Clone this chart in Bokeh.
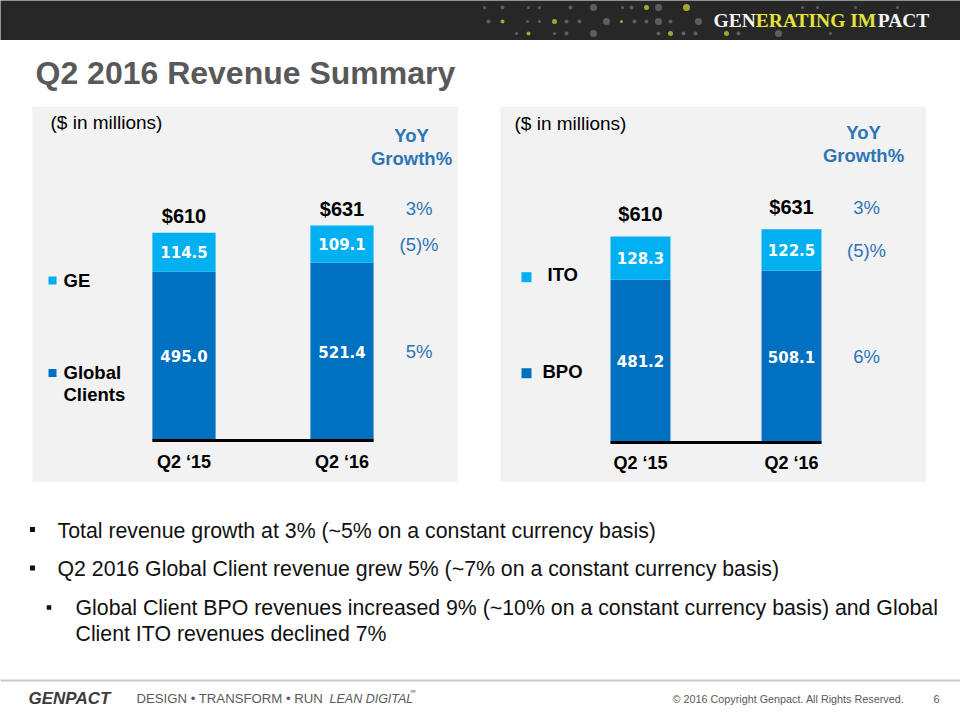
from bokeh.plotting import figure
from bokeh.models import ColumnDataSource, Range1d, Spacer
from bokeh.layouts import column, row
from bokeh.core.properties import value
from bokeh.embed import file_html
from bokeh.resources import INLINE

# ---------------- data ----------------
quarters = ["Q2 \u201815", "Q2 \u201816"]

left_names = ["Global Clients", "GE"]
global_clients = [495.0, 521.4]
ge = [114.5, 109.1]
left_totals = [610, 631]
left_growth = ["3%", "(5)%", "5%"]

right_names = ["BPO", "ITO"]
bpo = [481.2, 508.1]
ito = [128.3, 122.5]
right_totals = [610, 631]
right_growth = ["3%", "(5)%", "6%"]

title_text = "Q2 2016 Revenue Summary"
unit_text = "($ in millions)"
yoy_text = ["YoY", "Growth%"]

bullets_lvl1 = [
    "Total revenue growth at 3% (~5% on a constant currency basis)",
    "Q2 2016 Global Client revenue grew 5% (~7% on a constant currency basis)",
]
bullet_lvl2 = [
    "Global Client BPO revenues increased 9% (~10% on a constant currency basis) and Global",
    "Client ITO revenues declined 7%",
]

# header decoration dots (x, y, diameter, colour)
dot_x = [484, 502, 528, 539, 570, 593, 622, 631, 646, 658, 686, 802, 817, 855, 897,
         488, 502, 527, 539, 554, 566, 579, 606, 621, 634, 646, 658, 670, 698,
         516, 528, 554, 566, 593, 658, 670, 683, 695, 726, 738, 778, 830]
dot_y = [7] * 15 + [21] * 14 + [33] * 13
dot_s = [3, 4, 3, 3, 4, 7, 3, 4, 5, 7, 7, 3, 3, 3, 3,
         4, 4, 3, 3, 5, 4, 4, 7, 3, 4, 4, 7, 4, 7,
         3, 4, 3, 4, 7, 4, 5, 4, 4, 5, 4, 7, 3]
G, Y = "#5e5e5e", "#a6a62e"
dot_c = [G, G, G, G, G, G, G, G, Y, G, Y, G, G, G, G,
         G, Y, G, G, Y, G, G, G, Y, G, G, G, G, G,
         G, Y, G, G, G, G, Y, G, G, Y, G, G, G]

# ---------------- styles ----------------
DARK = "#0070c0"
LIGHT = "#00b0f0"
PANEL = "#f2f2f2"
GROWTH = "#2e75b6"
SANS = value("Liberation Sans")


def base_fig(w, h, xr, yr, bg="white"):
    p = figure(width=w, height=h, x_range=Range1d(*xr), y_range=Range1d(*yr),
               output_backend="svg", toolbar_location=None,
               x_axis_type=None, y_axis_type=None, min_border=0,
               background_fill_color=bg, border_fill_color=bg,
               outline_line_color=None)
    p.grid.visible = False
    return p


def chart(low, high, totals, growth, names, cfg):
    W, H = 426, 376
    x0, x1, y0, y1 = cfg["x0"], cfg["x1"], cfg["y0"], cfg["y1"]
    p = base_fig(W, H, (x0, x1), (y0, y1), PANEL)

    def dx(px):
        return x0 + px / W * (x1 - x0)

    def dy(py):
        return y1 - py / H * (y1 - y0)

    xs = list(range(len(quarters)))
    top = [a + b for a, b in zip(low, high)]
    src = ColumnDataSource(dict(
        x=xs, low=low, high=high, q=quarters, top=top, zero=[0] * len(xs),
        mid_low=[a / 2 for a in low],
        mid_high=[a + b / 2 for a, b in zip(low, high)],
        low_txt=[f"{v:.1f}" for v in low],
        high_txt=[f"{v:.1f}" for v in high],
        tot_txt=[f"${t}" for t in totals],
    ))
    w = cfg["w"]
    p.vbar_stack(["low", "high"], x="x", width=w, source=src,
                 fill_color=[DARK, LIGHT], line_color=None)
    p.segment(x0=[xs[0] - w / 2], y0=[0], x1=[xs[-1] + w / 2], y1=[0],
              line_color="black", line_width=3)

    seg_style = dict(text_color="white", text_font=value("DejaVu Sans"),
                     text_font_style="bold", text_font_size="15px",
                     text_align="center", text_baseline="middle")
    p.text(x="x", y="mid_low", text="low_txt", source=src, **seg_style)
    p.text(x="x", y="mid_high", text="high_txt", source=src, **seg_style)

    p.text(x="x", y="top", text="tot_txt", source=src, y_offset=cfg["tot_off"],
           text_color="black", text_font=SANS, text_font_style="bold",
           text_font_size="20px", text_align="center", text_baseline="middle")
    p.text(x="x", y="zero", text="q", source=src, y_offset=cfg["lab_off"],
           text_color="black", text_font=SANS, text_font_style="bold",
           text_font_size="18px", text_align="center", text_baseline="middle")

    # growth column (next to last bar)
    gstyle = dict(text_color=GROWTH, text_font=SANS, text_font_size="18.5px",
                  text_align="center", text_baseline="middle")
    last = xs[-1]
    p.text(x=[last], y=[top[-1]], text=[growth[0]], x_offset=cfg["g_off"],
           y_offset=cfg["tot_off"], **gstyle)
    p.text(x=[last, last], y=[src.data["mid_high"][-1], src.data["mid_low"][-1]],
           text=[growth[1], growth[2]], x_offset=cfg["g_off"], **gstyle)

    # YoY header
    p.text(x=[dx(cfg["yoy_x"])] * 2, y=[dy(cfg["yoy_y"][0]), dy(cfg["yoy_y"][1])],
           text=yoy_text, text_color=GROWTH, text_font=SANS, text_font_style="bold",
           text_font_size="18.5px", text_align="center", text_baseline="middle")

    # units
    p.text(x=[dx(cfg["unit"][0])], y=[dy(cfg["unit"][1])], text=[unit_text],
           text_color="black", text_font=SANS, text_font_size="19px",
           text_align="left", text_baseline="middle")

    # legend
    lg = cfg["legend"]
    p.scatter(x=[dx(lg["sq_x"])] * 2, y=[dy(lg["sq_y"][1]), dy(lg["sq_y"][0])],
              marker="square", size=lg["sq_size"], fill_color=[LIGHT, DARK],
              line_color=None)
    hi_name = names[1]
    lo_lines = names[0].split(" ")
    lstyle = dict(text_color="black", text_font=SANS, text_font_style="bold",
                  text_font_size="18.5px", text_align="left", text_baseline="middle")
    p.text(x=[dx(lg["hi_tx"])], y=[dy(lg["hi_ty"])], text=[hi_name], **lstyle)
    p.text(x=[dx(lg["lo_tx"])] * len(lo_lines),
           y=[dy(lg["lo_ty"] + i * 22.6) for i in range(len(lo_lines))],
           text=lo_lines, **lstyle)
    return p


left_cfg = dict(x0=-151.5 / 158, x1=(426 - 151.5) / 158, y0=-42 / 0.341, y1=334 / 0.341,
                w=0.4, tot_off=-16.5, lab_off=21, g_off=77,
                yoy_x=379, yoy_y=(29, 52), unit=(18, 16),
                legend=dict(sq_x=20, sq_y=(266.5, 174), sq_size=8,
                            hi_tx=31, hi_ty=174, lo_tx=31, lo_ty=265.7))
right_cfg = dict(x0=-140 / 151, x1=(426 - 140) / 151, y0=-40 / 0.338, y1=336 / 0.338,
                 w=0.397, tot_off=-22, lab_off=20, g_off=75,
                 yoy_x=363, yoy_y=(26.3, 49), unit=(14, 17),
                 legend=dict(sq_x=26, sq_y=(266.7, 170.7), sq_size=10,
                             hi_tx=47, hi_ty=168.3, lo_tx=42, lo_ty=265))

c1 = chart(global_clients, ge, left_totals, left_growth, left_names, left_cfg)
c2 = chart(bpo, ito, right_totals, right_growth, right_names, right_cfg)

# ---------------- header band ----------------
hdr = base_fig(960, 40, (0, 960), (40, 0), "#272727")
hdr.scatter(x=dot_x, y=dot_y, size=dot_s, fill_color=dot_c, line_color=None)
hstyle = dict(text_font=value("Liberation Serif"), text_font_style="bold",
              text_font_size="19.5px", text_align="left", text_baseline="middle")
hdr.text(x=[713], y=[20], text=["GEN"], text_color="#f4f4f4", **hstyle)
hdr.text(x=[755.3], y=[20], text=["ERATING IM"], text_color="#e3e33c", **hstyle)
hdr.text(x=[877.2], y=[20], text=["PACT"], text_color="#f4f4f4", **hstyle)

# ---------------- title ----------------
ttl = base_fig(960, 66, (0, 960), (106, 40))
ttl.text(x=[35], y=[72], text=[title_text], text_color="#595959", text_font=SANS,
         text_font_style="bold", text_font_size="32px", text_align="left",
         text_baseline="middle")

# ---------------- bullets + footer ----------------
bot = base_fig(960, 238, (0, 960), (720, 482))
bstyle = dict(text_color="#111111", text_font=SANS, text_font_size="21.3px",
              text_align="left", text_baseline="middle")
bot.scatter(x=[32, 32], y=[529, 567.5], marker="square", size=5,
            fill_color="#111111", line_color=None)
bot.scatter(x=[48.5], y=[607], marker="square", size=4.5,
            fill_color="#111111", line_color=None)
bot.text(x=[57, 57], y=[530, 568.5], text=bullets_lvl1, **bstyle)
bot.text(x=[75, 75], y=[607, 633.5], text=bullet_lvl2, **bstyle)

bot.segment(x0=[0], y0=[680], x1=[960], y1=[680], line_color="#c8c8c8", line_width=2)
bot.text(x=[28], y=[698], text=["GENPACT"], text_color="#3c3c3c", text_font=SANS,
         text_font_style="bold italic", text_font_size="17px", text_baseline="middle")
bot.text(x=[136], y=[698], text=["DESIGN \u2022 TRANSFORM \u2022 RUN"], text_color="#5a5a5a",
         text_font=SANS, text_font_size="13.2px", text_baseline="middle")
bot.text(x=[329], y=[698], text=["LEAN DIGITAL"], text_color="#5a5a5a",
         text_font=SANS, text_font_style="italic", text_font_size="12.5px",
         text_baseline="middle")
bot.text(x=[409], y=[692], text=["\u2120"], text_color="#5a5a5a",
         text_font=SANS, text_font_size="7px", text_baseline="middle")
bot.text(x=[672], y=[698], text=["\u00a9 2016 Copyright Genpact. All Rights Reserved."],
         text_color="#5a5a5a", text_font=SANS, text_font_size="10.8px",
         text_baseline="middle")
bot.text(x=[933], y=[698], text=["6"], text_color="#5a5a5a", text_font=SANS,
         text_font_size="11px", text_baseline="middle")

layout = column(
    hdr,
    ttl,
    row(Spacer(width=32, height=376), c1, Spacer(width=42, height=376), c2,
        Spacer(width=34, height=376)),
    bot,
)

open("out.html", "w").write(file_html(layout, INLINE))
